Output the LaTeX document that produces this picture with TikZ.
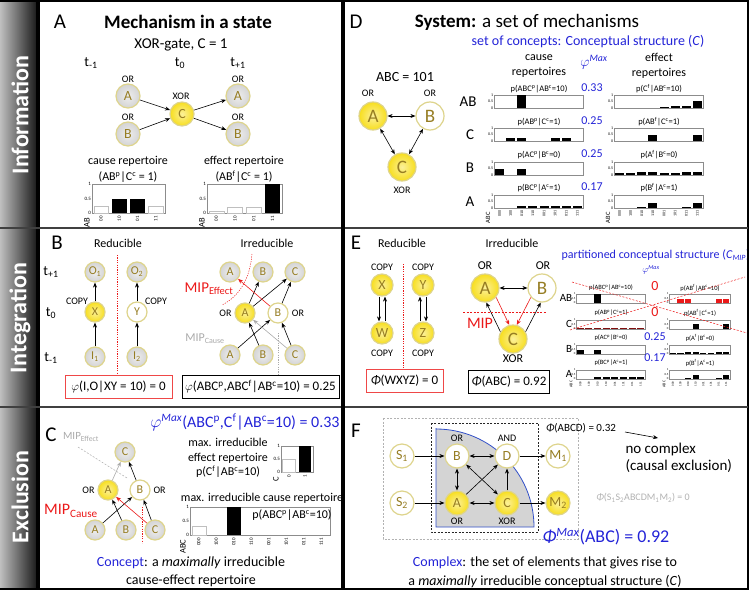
\documentclass[tikz,border=0pt]{standalone}
\usepackage{fontspec}
\setmainfont{Carlito}
\usetikzlibrary{arrows.meta,positioning}

\definecolor{cgiallo}{RGB}{247,222,30}
\definecolor{cbordo}{RGB}{222,212,140}
\definecolor{cgrigio}{RGB}{212,212,212}
\definecolor{clettera}{RGB}{150,125,35}
\definecolor{cblu}{RGB}{35,35,215}
\definecolor{crosso}{RGB}{235,25,25}
\definecolor{cchiaro}{RGB}{170,170,170}
\definecolor{cbluF}{RGB}{50,80,200}

\tikzset{
  nodo/.style={circle, draw=cbordo, line width=1.2pt, inner sep=0pt, text=clettera},
  giallo/.style={nodo, inner color=cgiallo!45!white, outer color=cgiallo},
  grigio/.style={nodo, inner color=cgrigio!40!white, outer color=cgrigio},
  bianco/.style={nodo, fill=white},
  pic20/.style={minimum size=20pt, font=\fontsize{12}{12}\selectfont},
  pic22/.style={minimum size=22pt, font=\fontsize{14}{14}\selectfont},
  pic24/.style={minimum size=24pt, font=\fontsize{14}{14}\selectfont},
  pic28/.style={minimum size=28pt, font=\fontsize{19}{19}\selectfont},
  freccia/.style={-{Stealth[length=5pt,width=4pt]}, line width=0.6pt},
  doppia/.style={{Stealth[length=5pt,width=4pt]}-{Stealth[length=5pt,width=4pt]}, line width=0.6pt},
  lettera/.style={font=\fontsize{21}{21}\selectfont},
  laterale/.style={rotate=90, text=white, font=\fontsize{24}{24}\selectfont\bfseries},
  titolo/.style={font=\fontsize{19}{19}\selectfont},
  t16/.style={font=\fontsize{16}{16}\selectfont},
  t15/.style={font=\fontsize{15}{15}\selectfont},
  t14/.style={font=\fontsize{14}{17}\selectfont},
  t12/.style={font=\fontsize{12}{14.5}\selectfont},
  t11/.style={font=\fontsize{11}{11}\selectfont},
  t10/.style={font=\fontsize{10}{10}\selectfont},
  t8/.style={font=\fontsize{8.5}{8.5}\selectfont},
  t6/.style={font=\fontsize{6.5}{6.5}\selectfont},
  tacca5/.style={inner sep=0.8pt, font=\fontsize{5}{5}\selectfont},
  tacca4/.style={inner sep=0.6pt, font=\fontsize{4}{4}\selectfont},
  tacca3/.style={inner sep=0.5pt, font=\fontsize{3}{3}\selectfont},
  bordog/.style={draw=black!45, line width=0.4pt},
  nera/.style={fill=black},
  vuota/.style={draw=black!25, fill=white, line width=0.5pt},
  rossa/.style={fill=crosso},
  bordeaux/.style={fill=crosso!55!black},
  taglio/.style={crosso, dash pattern=on 2pt off 1.5pt, line width=0.6pt},
  riquadro/.style={draw, line width=0.8pt, minimum height=23pt, font=\fontsize{13}{13}\selectfont},
  valblu/.style={text=cblu, font=\fontsize{12}{12}\selectfont},
}

% cornice del grafico con tacche
\newcommand{\cornice}[6][tacca5]{%
  \draw[bordog] (#3,#4) rectangle (#5,#6);
  \node[#1, anchor=east] (#2-u) at (#3,#4) {1};
  \node[#1, anchor=east] (#2-m) at (#3,{(#4+#6)/2}) {0.5};
  \node[#1, anchor=east] (#2-z) at (#3,#6) {0};
}
% barre
\newcommand{\barre}[7][nera]{%
  \pgfmathsetmacro{\largb}{(#4-#2)/#6}%
  \foreach \hb [count=\i] in {#7}{%
    \ifdim \hb pt>0pt
      \path[#1] ({#2+(\i-1)*\largb+0.1*\largb},#5) rectangle ({#2+\i*\largb-0.1*\largb},{#5-\hb*(#5-#3)});
    \fi
  }%
}
% etichette asse x
\newcommand{\etichette}[7][tacca5]{%
  \pgfmathsetmacro{\largb}{(#4-#3)/#6}%
  \foreach \etq [count=\i] in {#7}{%
    \node[#1, rotate=90, anchor=east] (#2-\i) at ({#3+(\i-0.5)*\largb},#5) {\etq};
  }%
}

\begin{document}
\begin{tikzpicture}[x=1pt,y=-1pt]
\useasboundingbox (0,0) rectangle (751,591);

%barra laterale
\shade[left color=black!25, right color=black!90] (0,0) rectangle (37,589);
\fill[black] (36,0) rectangle (40,589);
\node[laterale] (info) at (20,115) {Information};
\node[laterale] (integr) at (20,318) {Integration};
\node[laterale] (escl) at (20,497) {Exclusion};

%cornice
\draw[line width=1.5pt] (0,1) -- (748,1) -- (748,589) -- (0,589);
\draw[line width=2pt, black!75] (0,228) -- (748,228);
\draw[line width=2pt, black!75] (0,407) -- (748,407);
\draw[line width=4pt] (343,0) -- (343,589);

%%%%% pannello A
\node[lettera] (lA) at (60,22) {A};
\node[titolo] (tA) at (188,22) {\bfseries Mechanism in a state};
\node[t15] (xorA) at (181,45) {XOR-gate, C = 1};
\node[t14] (tm1) at (91,63) {t\textsubscript{-1}};
\node[t14] (t0) at (180,63) {t\textsubscript{0}};
\node[t14] (tp1) at (238,63) {t\textsubscript{+1}};
\node[t10] (orA1) at (128,79) {OR};
\node[t10] (orB1) at (128,117) {OR};
\node[t10] (xorC) at (181,96) {XOR};
\node[t10] (orA2) at (238,79) {OR};
\node[t10] (orB2) at (238,117) {OR};

\node[grigio, pic24] (aA) at (128,96) {A};
\node[grigio, pic24] (aB) at (128,134) {B};
\node[giallo, pic24] (aC) at (182,114) {C};
\node[grigio, pic24] (aA2) at (238,96) {A};
\node[grigio, pic24] (aB2) at (238,134) {B};

\draw[freccia] (aA) -- (aC);
\draw[freccia] (aB) -- (aC);
\draw[freccia] (aC) -- (aA2);
\draw[freccia] (aC) -- (aB2);

%repertori
\node[t12] (crA) at (128,161) {cause repertoire};
\node[t12] (crA2) at (128,177) {(AB\textsuperscript{p}|C\textsuperscript{c} = 1)};
\node[t12] (erA) at (244,161) {effect repertoire};
\node[t12] (erA2) at (244,177) {(AB\textsuperscript{f}|C\textsuperscript{c} = 1)};

\cornice{gA1}{92}{184}{165}{213}
\barre[vuota]{92}{184}{165}{213}{4}{0.25,0,0,0.25}
\barre{92}{184}{165}{213}{4}{0,0.5,0.5,0}
\etichette{xA1}{92}{165}{215}{4}{00,10,01,11}
\node[t8, rotate=90, anchor=east] (abA1) at (87,214) {AB};

\cornice{gA2}{207}{184}{282}{213}
\barre[vuota]{207}{184}{282}{213}{4}{0.05,0.2,0.2,0}
\barre{207}{184}{282}{213}{4}{0,0,0,1}
\etichette{xA2}{207}{282}{215}{4}{00,10,01,11}
\node[t8, rotate=90, anchor=east] (abA2) at (202,214) {AB};

%%%%% pannello D
\node[lettera] (lD) at (356,22) {D};
\node[titolo] (tD) at (527,22) {\textbf{System:} a set of mechanisms};
\node[t14, text=cblu] (concD) at (588,42) {set of concepts: Conceptual structure (\textit{C})};
\node[t12, align=center] (causeD) at (539,66) {cause\\repertoires};
\node[t12, align=center] (effD) at (659,66) {effect\\repertoires};
\node[t14, text=cblu] (phiD) at (594,62) {$\varphi$\textsuperscript{\textit{Max}}};

\node[t14] (abc101) at (405,77) {ABC = 101};
\node[t10] (orDA) at (368,93) {OR};
\node[t10] (orDB) at (430,93) {OR};
\node[giallo, pic28] (dA) at (373,116) {A};
\node[bianco, pic28] (dB) at (430,116) {B};
\node[giallo, pic28] (dC) at (402,167) {C};
\node[t10] (xorD) at (402,190) {XOR};
\draw[doppia] (dA) -- (dB);
\draw[doppia] (dA) -- (dC);
\draw[doppia] (dB) -- (dC);

%riga AB
\node[t15] (rAB) at (468,102) {AB};
\node[t8] (dcAB) at (539,89) {p(ABC\textsuperscript{p}|AB\textsuperscript{c}=10)};
\node[t8] (deAB) at (659,89) {p(C\textsuperscript{f}|AB\textsuperscript{c}=10)};
\node[valblu] (vAB) at (592,88) {0.33};
\cornice[tacca4]{gcAB}{494}{95}{583}{108}
\barre{494}{95}{583}{108}{8}{0,0,1,0,0,0,0,0}
\cornice[tacca4]{geAB}{614}{95}{703}{108}
\barre{614}{95}{703}{108}{8}{0,0,0,0,0.05,0.17,0.17,0.5}
%riga C
\node[t15] (rC) at (470,135) {C};
\node[t8] (dcC) at (539,122) {p(AB\textsuperscript{p}|C\textsuperscript{c}=1)};
\node[t8] (deC) at (659,122) {p(AB\textsuperscript{f}|C\textsuperscript{c}=1)};
\node[valblu] (vC) at (592,121) {0.25};
\cornice[tacca4]{gcC}{494}{128}{583}{141}
\barre{494}{128}{583}{141}{8}{0,0.25,0.25,0,0,0.25,0.25,0}
\cornice[tacca4]{geC}{614}{128}{703}{141}
\barre{614}{128}{703}{141}{8}{0,0,0,0.5,0,0,0,0.5}
%riga B
\node[t15] (rB) at (470,168) {B};
\node[t8] (dcB) at (539,155) {p(AC\textsuperscript{p}|B\textsuperscript{c}=0)};
\node[t8] (deB) at (659,155) {p(A\textsuperscript{f}|B\textsuperscript{c}=0)};
\node[valblu] (vB) at (592,154) {0.25};
\cornice[tacca4]{gcB}{494}{162}{583}{175}
\barre{494}{162}{583}{175}{8}{0.5,0,0.5,0,0,0,0,0}
\cornice[tacca4]{geB}{614}{162}{703}{175}
\barre{614}{162}{703}{175}{8}{0.12,0.12,0.2,0.2,0.12,0.12,0.2,0.2}
%riga A
\node[t15] (rA) at (470,202) {A};
\node[t8] (dcA) at (539,188) {p(BC\textsuperscript{p}|A\textsuperscript{c}=1)};
\node[t8] (deA) at (659,188) {p(B\textsuperscript{f}|A\textsuperscript{c}=1)};
\node[valblu] (vA) at (592,187) {0.17};
\cornice[tacca4]{gcA}{494}{195}{583}{208}
\barre{494}{195}{583}{208}{8}{0,0,0.17,0.17,0.17,0.17,0.17,0.17}
\cornice[tacca4]{geA}{614}{195}{703}{208}
\barre{614}{195}{703}{208}{8}{0,0,0.1,0.35,0,0,0.1,0.35}
\etichette[tacca4]{xDc}{494}{583}{210}{8}{000,100,010,110,001,101,011,111}
\etichette[tacca4]{xDe}{614}{703}{210}{8}{000,100,010,110,001,101,011,111}
\node[t6, rotate=90, anchor=east] (abcDc) at (488,209) {ABC};
\node[t6, rotate=90, anchor=east] (abcDe) at (608,209) {ABC};

%%%%% pannello B
\node[lettera] (lB) at (57,243) {B};
\node[t12] (ridB) at (118,243) {Reducible};
\node[t12] (irrB) at (267,243) {Irreducible};
\node[t14] (bt1) at (51,272) {t\textsubscript{+1}};
\node[t14] (bt0) at (51,313) {t\textsubscript{0}};
\node[t14] (btm) at (51,358) {t\textsubscript{-1}};

\node[grigio, pic20] (bO1) at (95,272) {O\textsubscript{1}};
\node[giallo, pic20] (bX) at (95,312) {X};
\node[grigio, pic20] (bI1) at (95,357) {I\textsubscript{1}};
\node[grigio, pic20] (bO2) at (137,272) {O\textsubscript{2}};
\node[bianco, pic20] (bY) at (137,312) {Y};
\node[grigio, pic20] (bI2) at (137,357) {I\textsubscript{2}};
\node[t10] (copyX) at (77,301) {COPY};
\node[t10] (copyY) at (156,301) {COPY};
\draw[freccia] (bI1) -- (bX);
\draw[freccia] (bX) -- (bO1);
\draw[freccia] (bI2) -- (bY);
\draw[freccia] (bY) -- (bO2);

\node[riquadro, draw=crosso!80, minimum width=107pt] (boxB1) at (118.5,386.5) {$\varphi$(I,O|XY = 10) = 0};
\draw[taglio, dash pattern=on 1.2pt off 1.2pt, line width=0.5pt] (117,255) -- (boxB1.north -| 117,0);

\node[grigio, pic20] (bA1) at (230,272) {A};
\node[grigio, pic20] (bB1) at (263,272) {B};
\node[grigio, pic20] (bC1) at (295,272) {C};
\node[giallo, pic20] (bA0) at (245,313) {A};
\node[bianco, pic20] (bB0) at (278,313) {B};
\node[grigio, pic20] (bA2) at (230,355) {A};
\node[grigio, pic20] (bB2) at (263,355) {B};
\node[grigio, pic20] (bC2) at (295,355) {C};
\node[t10, anchor=east] (orbA) at (235,313) {OR};
\node[t10] (orbB) at (298,313) {OR};

\draw[freccia] (bA0) -- (bB1);
\draw[freccia] (bA0) -- (bC1);
\draw[freccia] (bB0) -- (bC1);
\draw[freccia, crosso] (bB0) -- (bA1);
\draw[freccia] (bA2) -- (bB0);
\draw[freccia] (bB2) -- (bA0);
\draw[freccia] (bC2) -- (bB0);
\draw[freccia, cchiaro] (bC2) -- (bA0);

\node[text=crosso, font=\fontsize{15}{15}\selectfont] (mipEb) at (209,289) {MIP\textsubscript{Effect}};
\draw[taglio, dash pattern=on 1.2pt off 1.2pt, line width=0.5pt] (252,254) .. controls (250,278) and (240,296) .. (222,305);
\node[text=cchiaro, font=\fontsize{12}{12}\selectfont] (mipCb) at (205,339) {MIP\textsubscript{Cause}};

\node[riquadro, minimum width=155pt] (boxB2) at (260.5,386.5) {$\varphi$(ABC\textsuperscript{p},ABC\textsuperscript{f}|AB\textsuperscript{c}=10) = 0.25};
\draw[cchiaro, dash pattern=on 1.2pt off 1.2pt, line width=0.5pt] (278,333) -- (boxB2.north -| 278,0);

%%%%% pannello E
\node[lettera] (lE) at (356,243) {E};
\node[t12] (ridE) at (402,243) {Reducible};
\node[t12] (irrE) at (512,243) {Irreducible};

\node[giallo, pic22] (eX) at (382,285) {X};
\node[giallo, pic22] (eW) at (382,333) {W};
\node[giallo, pic22] (eY) at (423,285) {Y};
\node[giallo, pic22] (eZ) at (423,333) {Z};
\node[t10] (copyEX) at (382,267) {COPY};
\node[t10] (copyEW) at (382,353) {COPY};
\node[t10] (copyEY) at (423,267) {COPY};
\node[t10] (copyEZ) at (423,353) {COPY};
\draw[freccia] ([xshift=-3pt]eX.south) -- ([xshift=-3pt]eW.north);
\draw[freccia] ([xshift=3pt]eW.north) -- ([xshift=3pt]eX.south);
\draw[freccia] ([xshift=-3pt]eZ.north) -- ([xshift=-3pt]eY.south);
\draw[freccia] ([xshift=3pt]eY.south) -- ([xshift=3pt]eZ.north);

\node[riquadro, draw=crosso!80, minimum width=77pt] (boxE1) at (404.5,381) {\textit{Φ}(WXYZ) = 0};
\draw[taglio, dash pattern=on 1.2pt off 1.2pt, line width=0.5pt] (403,264) -- (boxE1.north -| 403,0);

\node[t12] (orEA) at (485,266) {OR};
\node[t12] (orEB) at (543,266) {OR};
\node[giallo, pic28] (eA) at (485,288) {A};
\node[bianco, pic28] (eB) at (542,288) {B};
\node[giallo, pic28] (eC) at (513,339) {C};
\node[t12] (xorE) at (513,359) {XOR};
\draw[doppia] (eA) -- (eB);
\draw[freccia, crosso] (eA.-40) -- (eC.105);
\draw[freccia, crosso] (eB.220) -- (eC.75);
\draw[freccia] (eC.150) -- (eA.-85);
\draw[freccia] (eC.30) -- (eB.-95);
\draw[taglio] (463,312) -- (546,312);
\node[text=crosso, font=\fontsize{16}{16}\selectfont] (mipE) at (480,323) {MIP};

\node[riquadro, minimum width=78pt] (boxE2) at (509,381.5) {\textit{Φ}(ABC) = 0.92};

\begin{scope}
\clip (550,240) rectangle (746,270);
\node[text=cblu, font=\fontsize{12}{12}\selectfont, anchor=west] (partE) at (558,255) {partitioned conceptual structure (\textit{C}\textsubscript{\textit{MIP}})};
\end{scope}
\node[text=cblu, font=\fontsize{9}{9}\selectfont] (phiE) at (651,270) {$\varphi$\textsuperscript{\textit{Max}}};

%righe E
\node[t11] (erAB) at (566,298) {AB};
\node[t6] (ecAB) at (611,288) {p(ABC\textsuperscript{p}|AB\textsuperscript{c}=10)};
\node[t6] (eeAB) at (700,288) {p(AB\textsuperscript{f}|AB\textsuperscript{c}=10)};
\node[t14, text=crosso] (evAB) at (655,286) {0};
\cornice[tacca3]{hcAB}{576}{294}{645}{303}
\barre{576}{294}{645}{303}{8}{0,0,1,0,0,0,0,0}
\cornice[tacca3]{heAB}{669}{294}{730}{303}
\barre[rossa]{669}{294}{730}{303}{8}{0,0.45,0.45,0,0,0,0.45,0.45}

\node[t11] (erC) at (569,324) {C};
\node[t6] (ecC) at (611,313) {p(AB\textsuperscript{p}|C\textsuperscript{c}=1)};
\node[t6] (eeC) at (700,313) {p(AB\textsuperscript{f}|C\textsuperscript{c}=1)};
\node[t14, text=crosso] (evC) at (655,312) {0};
\cornice[tacca3]{hcC}{576}{320}{645}{329}
\barre[bordeaux]{576}{320}{645}{329}{8}{0.12,0.12,0.12,0.12,0.12,0.12,0.12,0.12}
\cornice[tacca3]{heC}{669}{320}{730}{329}
\barre{669}{320}{730}{329}{8}{0,0,0,0.55,0,0,0,0.55}

\node[t11] (erB) at (569,349) {B};
\node[t6] (ecB) at (611,338) {p(AC\textsuperscript{p}|B\textsuperscript{c}=0)};
\node[t6] (eeB) at (700,338) {p(A\textsuperscript{f}|B\textsuperscript{c}=0)};
\node[valblu] (evB) at (655,337) {0.25};
\cornice[tacca3]{hcB}{576}{345}{645}{354}
\barre{576}{345}{645}{354}{8}{0.5,0,0.5,0,0,0,0,0}
\cornice[tacca3]{heB}{669}{345}{730}{354}
\barre{669}{345}{730}{354}{8}{0.15,0.15,0.22,0.22,0.15,0.15,0.22,0.22}

\node[t11] (erA) at (569,374) {A};
\node[t6] (ecA) at (611,363) {p(BC\textsuperscript{p}|A\textsuperscript{c}=1)};
\node[t6] (eeA) at (700,363) {p(B\textsuperscript{f}|A\textsuperscript{c}=1)};
\node[valblu] (evA) at (655,358) {0.17};
\cornice[tacca3]{hcA}{576}{370}{645}{379}
\barre{576}{370}{645}{379}{8}{0,0,0.22,0.22,0.22,0.22,0.22,0.22}
\cornice[tacca3]{heA}{669}{370}{730}{379}
\barre{669}{370}{730}{379}{8}{0,0,0.1,0.45,0,0,0.1,0.45}
\etichette[tacca3]{xEc}{576}{645}{381}{8}{000,100,010,110,001,101,011,111}
\etichette[tacca3]{xEe}{669}{730}{381}{8}{000,100,010,110,001,101,011,111}
\node[tacca4, rotate=90, anchor=east] (abcEc) at (571,380) {ABC};
\node[tacca4, rotate=90, anchor=east] (abcEe) at (664,380) {ABC};

\draw[taglio, line width=0.5pt] (572,282) -- (747,333);
\draw[taglio, line width=0.5pt] (570,330) -- (745,277);

%%%%% pannello C
\node[lettera] (lC) at (51,435) {C};
\node[text=cchiaro, font=\fontsize{11}{11}\selectfont] (mipEc) at (81,437) {MIP\textsubscript{Effect}};
\node[t16, text=cblu] (phiC) at (245,422) {$\varphi$\textsuperscript{\textit{Max}}(ABC\textsuperscript{p},C\textsuperscript{f}|AB\textsuperscript{c}=10) = 0.33};

\node[grigio, pic20] (cC1) at (125,452) {C};
\node[giallo, pic20] (cA0) at (108,490) {A};
\node[bianco, pic20] (cB0) at (140,490) {B};
\node[grigio, pic20] (cA2) at (95,530) {A};
\node[grigio, pic20] (cB2) at (126,530) {B};
\node[grigio, pic20] (cC2) at (155,530) {C};
\node[t10, anchor=east] (orcA) at (98,490) {OR};
\node[t10, anchor=west] (orcB) at (150,490) {OR};

\draw[freccia, cchiaro] (cA0) -- (cC1);
\draw[freccia] (cB0) -- (cC1);
\draw[freccia] (cA2) -- (cB0);
\draw[freccia] (cB2) -- (cA0);
\draw[freccia] (cC2) -- (cB0);
\draw[freccia, crosso] (cC2) -- (cA0);
\draw[cchiaro, dash pattern=on 2pt off 1.5pt, line width=0.5pt] (78,447) -- (127,478);
\node[text=crosso, font=\fontsize{16}{16}\selectfont] (mipCc) at (71,511) {MIP\textsubscript{Cause}};
\draw[taglio, dash pattern=on 1.2pt off 1.2pt, line width=0.5pt] (142,507) -- (142,543);

\node[t12, align=center] (maxE) at (228,458) {max. irreducible\\effect repertoire\\p(C\textsuperscript{f}|AB\textsuperscript{c}=10)};
\cornice{gC1}{281}{446}{313}{472}
\barre[vuota]{281}{446}{313}{472}{2}{0.5,0}
\barre{281}{446}{313}{472}{2}{0,1}
\etichette{xC1}{281}{313}{474}{2}{0,1}
\node[t8, rotate=90, anchor=east] (cxC1) at (276,473) {C};

\node[t12] (maxC) at (262,498) {max. irreducible cause repertoire};
\cornice{gC2}{190}{507}{330}{535}
\barre[vuota]{190}{507}{330}{535}{8}{0.33,0,0,0,0,0,0,0}
\barre{190}{507}{330}{535}{8}{0,0,1,0,0,0,0,0}
\node[t12] (pC2) at (292,515) {p(ABC\textsuperscript{p}|AB\textsuperscript{c}=10)};
\etichette{xC2}{190}{330}{537}{8}{000,100,010,110,001,101,011,111}
\node[t8, rotate=90, anchor=east] (cxC2) at (183,536) {ABC};

\node[t14] (concC) at (191,563) {{\color{cblu}Concept}: a \textit{maximally} irreducible};
\node[t14] (concC2) at (191,581) {cause-effect repertoire};

%%%%% pannello F
\node[lettera] (lF) at (356,431) {F};
\draw[black!30, dash pattern=on 2pt off 1.5pt, line width=0.8pt] (383,418) rectangle (578,539);
\filldraw[fill=black!17, draw=cbluF, line width=0.8pt] (436,428) -- (436,527) -- (534,527) arc[start angle=0, end angle=-90, radius=98] -- cycle;
\draw[black!85, dash pattern=on 2pt off 1.5pt, line width=0.8pt] (431,423) rectangle (538,532);

\node[bianco, pic24] (fS1) at (402,456) {S\textsubscript{1}};
\node[bianco, pic24] (fS2) at (402,503) {S\textsubscript{2}};
\node[bianco, pic24] (fB) at (457,456) {B};
\node[bianco, pic24] (fD) at (507,456) {D};
\node[giallo, pic24] (fA) at (457,503) {A};
\node[giallo, pic24] (fC) at (507,503) {C};
\node[bianco, pic24] (fM1) at (558,456) {M\textsubscript{1}};
\node[giallo, pic24] (fM2) at (558,503) {M\textsubscript{2}};
\node[t10] (orfB) at (457,438) {OR};
\node[t10] (andfD) at (507,438) {AND};
\node[t10] (orfA) at (457,521) {OR};
\node[t10] (xorfC) at (507,521) {XOR};

\draw[freccia] (fS1) -- (fB);
\draw[freccia] (fS2) -- (fA);
\draw[freccia] (fD) -- (fM1);
\draw[freccia] (fC) -- (fM2);
\draw[doppia] (fB) -- (fD);
\draw[doppia] (fB) -- (fA);
\draw[doppia] (fA) -- (fC);
\draw[doppia] (fB) -- (fC);
\draw[freccia] (fA) -- (fD);
\draw[freccia] (fC) -- (fD);

\node[t11] (phiABCD) at (581,428) {\textit{Φ}(ABCD) = 0.32};
\coordinate (fpA) at (625,432);
\coordinate (fpB) at (658,438);
\draw[freccia] (fpA) -- (fpB);
\node[t15, anchor=west] (noc) at (622,449) {no complex};
\node[t15, anchor=west] (noc2) at (622,466) {(causal exclusion)};
\node[t10, text=black!30] (phiTot) at (643,498) {\textit{Φ}(S\textsubscript{1}S\textsubscript{2}ABCDM\textsubscript{1}M\textsubscript{2}) = 0};
\node[text=cblu, font=\fontsize{18}{18}\selectfont] (phiMax) at (606,537) {\textit{Φ}\textsuperscript{\textit{Max}}(ABC) = 0.92};

\node[t14] (complF) at (545,563) {{\color{cblu}Complex}: the set of elements that gives rise to};
\node[t14] (complF2) at (545,581) {a \textit{maximally} irreducible conceptual structure (\textit{C})};

\end{tikzpicture}
\end{document}
